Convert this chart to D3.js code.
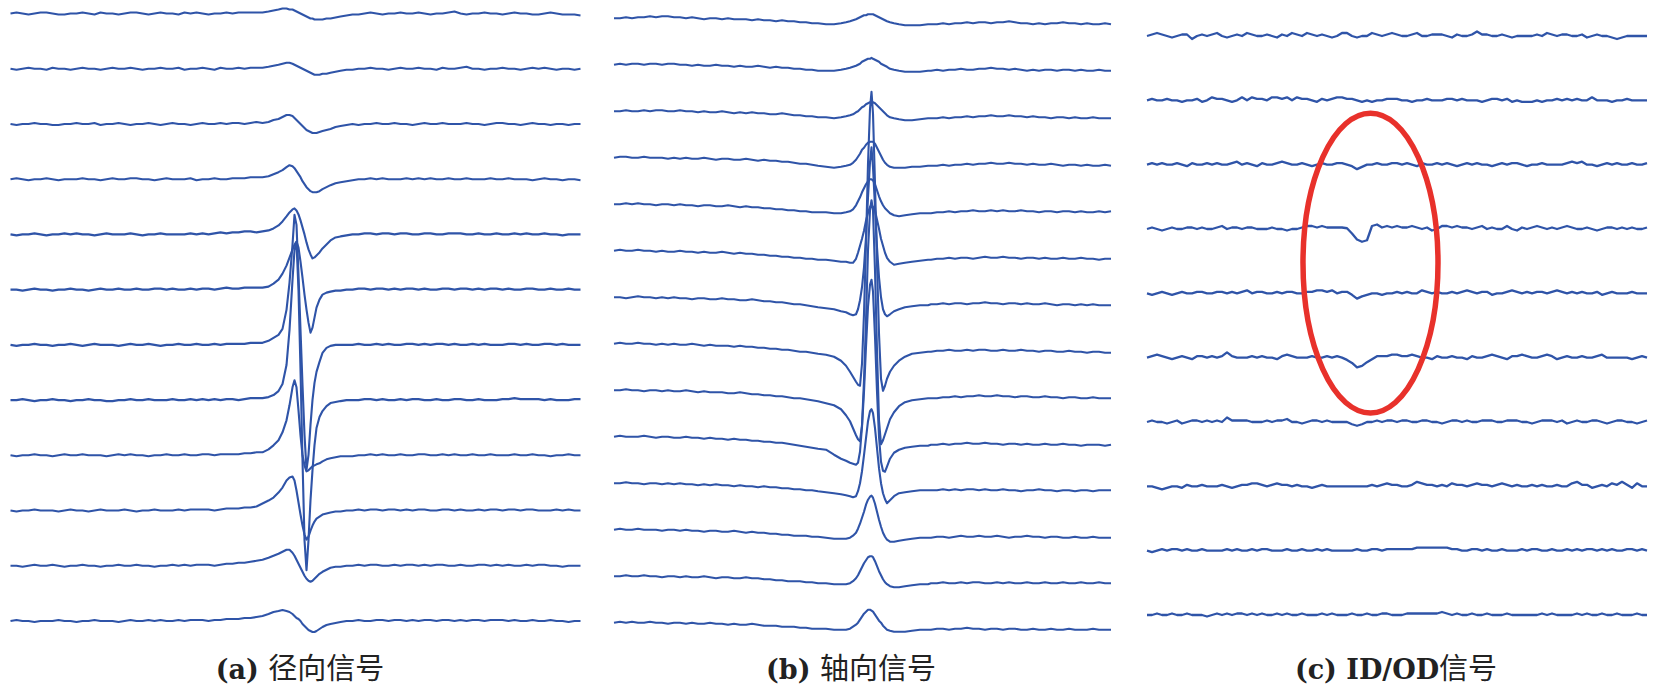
<!DOCTYPE html>
<html><head><meta charset="utf-8">
<script src="https://cdn.jsdelivr.net/npm/d3@7"></script>
<style>html,body{margin:0;padding:0;background:#fff;}svg{display:block;}</style>
</head><body>
<svg id="chart" width="1655" height="689"></svg>
<script>
// ---------------- (a) radial signal: 12 traces ----------------
const radialStep = 6;            // coarse sampling step (scan units)
const radialXMax = 570;
const radialPulsePos = [252,258,263,268,272,276,279,282,284,286,288,290,292,294,296,298,300,302,304,306,309,312,316,320,325,330,336];
const radialLeft = [
 [0,1,0,-1,0,1,1,0,-1,-1,0,0,1,0,-1,1,0,0,-1,0,1,1,0,-1,0,1,0,0,-1,1,0,1,0,-1,0,0,1,0,1,1,1,1],
 [0,-1,0,1,0,0,-1,1,0,0,-1,0,1,0,0,-1,0,1,0,0,1,0,-1,0,0,1,0,0,1,-1,0,0,1,0,-1,1,0,0,1,0,1,1],
 [0,-1,0,0,1,0,0,-1,-1,0,0,1,0,0,1,-1,0,0,1,0,-1,0,0,1,0,-1,0,1,0,0,-1,0,1,0,0,1,0,1,1,0,1,2],
 [0,1,0,-1,0,0,1,0,-1,0,0,0,1,0,0,-1,0,1,0,0,1,1,0,0,-1,0,1,0,0,0,1,-1,0,0,1,0,0,1,1,1,2,2],
 [0,-1,0,0,1,0,-1,0,0,1,0,1,0,0,-1,0,1,0,0,0,1,0,-1,0,0,1,0,0,0,0,1,0,1,0,1,2,1,2,2,3,3,2],
 [0,0,-1,0,1,0,0,-1,0,0,1,0,0,-1,0,1,0,0,1,0,0,1,0,0,1,1,0,1,0,0,1,0,1,1,0,1,2,1,1,2,2,2],
 [0,-1,0,0,1,0,0,-1,0,0,1,0,-1,0,1,0,0,0,-1,0,1,0,0,1,0,-1,0,0,1,0,0,1,0,0,1,0,1,1,1,1,2,2],
 [0,0,1,0,-1,0,0,1,0,0,-1,0,0,1,0,0,-1,-1,0,0,1,0,0,1,0,0,0,1,0,0,1,0,1,0,1,0,1,1,0,1,2,2],
 [0,-1,0,0,1,0,0,-1,0,1,0,0,1,0,0,0,-1,0,1,0,1,0,0,-1,0,0,1,0,0,1,0,0,1,1,0,1,1,1,1,2,2,3],
 [0,-1,0,0,1,0,0,0,-1,0,1,0,0,-1,0,1,0,0,0,1,0,-1,0,0,1,0,0,0,1,0,1,1,1,1,0,1,2,2,2,3,3,4],
 [0,0,-1,0,1,0,0,1,0,-1,0,0,1,0,0,-1,0,0,1,0,0,1,0,0,-1,0,0,1,0,1,0,1,1,1,0,1,2,2,3,3,4,5],
 [0,1,0,0,-1,0,0,0,1,0,0,-1,0,0,1,0,0,0,-1,0,1,0,0,1,0,1,0,0,1,0,1,1,1,0,1,1,2,2,2,3,3,4]
];
const radialPulse = [
 [1,2,3,4,5,5,4,4,3,2,1,0,-1,-2,-3,-4,-5,-5,-6,-6,-6,-6,-5,-5,-4,-3,-2],
 [1,2,3,4,5,6,6,5,4,3,2,1,0,-1,-2,-3,-4,-5,-6,-6,-6,-5,-5,-4,-3,-2,-1],
 [1,2,4,5,7,9,9,8,6,4,2,0,-2,-4,-6,-7,-8,-9,-9,-9,-8,-7,-6,-5,-3,-2,-1],
 [2,3,5,7,9,12,14,13,11,8,5,2,-2,-5,-8,-10,-12,-13,-13,-13,-12,-10,-8,-6,-4,-3,-2],
 [3,4,6,9,13,18,22,25,26,24,20,14,7,0,-8,-15,-20,-24,-23,-21,-18,-14,-10,-6,-3,-2,-1],
 [2,3,6,10,16,24,32,40,45,48,42,28,12,-5,-20,-33,-43,-38,-28,-18,-10,-5,-3,-2,-1,-1,0],
 [2,4,7,10,16,35,62,100,130,120,70,15,-40,-90,-125,-110,-80,-55,-38,-27,-17,-8,-3,-1,0,0,0],
 [2,3,5,9,16,35,70,120,150,158,110,30,-60,-140,-170,-140,-100,-70,-45,-28,-17,-11,-6,-3,-2,-1,0],
 [3,6,10,15,23,35,50,68,75,68,45,20,0,-10,-16,-15,-13,-11,-10,-9,-8,-6,-4,-3,-2,-1,-1],
 [7,10,13,18,23,30,33,34,30,20,8,-4,-15,-24,-29,-26,-20,-15,-11,-8,-6,-4,-3,-2,-1,-1,0],
 [6,8,10,12,14,16,16,13,10,6,2,-2,-6,-10,-13,-15,-16,-15,-13,-11,-8,-6,-4,-2,-1,-1,0],
 [5,7,9,10,11,10,9,7,5,3,2,0,-3,-5,-7,-9,-10,-11,-11,-10,-8,-6,-4,-3,-2,-1,0]
];
const radialRight = [
 [-1,-1,0,1,0,-1,0,0,1,0,0,1,0,-1,0,0,1,2,0,-1,0,0,1,0,0,-1,0,1,0,0,-1,-1,0,1,0,-1,-1,-1,-2],
 [-1,0,0,1,0,0,-1,0,1,0,0,1,0,0,-1,1,0,0,1,2,0,0,-1,0,0,1,0,0,-1,0,1,0,1,0,-1,0,0,-1,0],
 [0,-1,0,0,1,0,0,1,0,0,-1,0,1,0,0,1,0,0,0,1,0,0,-1,0,1,1,0,0,-1,0,1,0,0,-1,0,0,-1,0,0],
 [-1,0,0,1,0,1,0,0,0,1,0,1,0,1,0,0,1,0,0,1,0,0,0,1,0,0,1,0,0,0,-1,0,1,0,0,-1,0,0,-1],
 [0,0,1,1,0,1,1,0,1,1,0,0,1,1,0,0,1,1,1,0,0,1,0,0,1,0,0,1,0,1,0,0,1,0,0,-1,0,0,0],
 [0,1,1,0,1,1,0,1,0,1,1,0,1,0,0,1,1,0,1,1,0,1,0,1,1,0,1,0,0,1,1,0,0,1,0,0,1,0,0],
 [0,1,0,0,1,0,1,0,0,1,1,0,1,0,1,1,0,1,0,0,1,0,1,0,0,0,1,1,0,1,0,0,1,1,0,1,0,0,0],
 [0,0,1,1,0,1,0,0,1,0,1,1,0,0,1,0,0,1,1,0,0,1,0,0,0,1,1,2,1,1,1,1,0,1,0,0,0,1,1],
 [-1,0,0,1,0,1,0,0,1,0,0,1,1,0,0,1,0,1,0,0,1,0,0,1,0,0,0,1,0,0,1,0,0,-1,0,0,1,0,0],
 [0,1,0,1,1,0,1,1,0,1,0,1,1,0,0,1,1,0,1,0,0,1,0,1,1,0,1,1,0,1,1,0,0,0,1,0,1,0,0],
 [0,1,0,1,1,0,0,1,0,1,1,0,1,0,1,1,0,0,1,0,0,1,1,0,1,0,1,0,0,1,0,1,1,0,0,-1,0,0,0],
 [0,1,0,0,1,1,0,1,1,0,1,0,1,1,0,1,1,0,1,0,1,1,0,1,1,1,0,1,0,0,1,0,0,1,0,0,-1,0,0]
];

// ---------------- (b) axial signal: 14 traces ----------------
const axialStep = 6;
const axialXMax = 497;
const axialPulsePos = [212,220,227,232,236,239,242,244,246,248,250,252,254,256,257.5,259,261,263,265,267,269,271,273,276,280,285,291,298,306,314];
const axialLeft = [
 [0,0,1,0,1,1,2,1,2,2,1,1,0,1,0,-1,0,0,-1,0,-1,-1,-1,-2,-1,-2,-2,-3,-2,-3,-3,-4,-4,-5,-5],
 [0,1,0,1,1,0,1,1,0,1,1,0,0,-1,0,-1,-1,0,-1,-1,-2,-1,-2,-2,-1,-2,-3,-2,-3,-3,-4,-4,-5,-5,-6],
 [0,0,1,0,0,1,0,1,1,0,0,1,0,0,-1,0,-1,-1,0,-1,-2,-1,-2,-1,-2,-2,-3,-3,-2,-3,-4,-4,-5,-5,-6],
 [0,1,1,0,0,1,0,0,0,-1,0,-1,0,-1,-1,0,-1,-2,-1,-1,-2,-2,-1,-2,-3,-2,-3,-3,-4,-4,-5,-6,-6,-7,-8],
 [0,0,1,0,1,0,0,-1,0,0,-1,0,-1,-1,-2,-1,-1,-2,-2,-1,-2,-3,-2,-3,-3,-4,-4,-5,-5,-6,-6,-7,-7,-8,-8],
 [0,1,0,0,1,0,0,-1,0,-1,-1,0,-1,-1,-2,-1,-2,-2,-1,-2,-3,-2,-3,-3,-4,-4,-5,-5,-6,-6,-7,-7,-8,-8,-9],
 [0,0,-1,0,1,0,0,-1,0,-1,0,-1,-1,-2,-1,-1,-2,-2,-1,-2,-2,-3,-3,-2,-3,-4,-4,-5,-5,-6,-7,-7,-8,-9,-10],
 [0,1,0,0,1,0,0,-1,0,-1,0,-1,-1,0,-1,-2,-1,-2,-2,-2,-3,-2,-3,-3,-4,-4,-5,-5,-6,-6,-7,-8,-8,-9,-10],
 [0,0,1,0,0,-1,0,0,-1,0,-1,-1,0,-1,-2,-1,-2,-2,-2,-3,-3,-2,-3,-4,-4,-5,-5,-6,-6,-7,-8,-8,-9,-10,-11],
 [0,1,0,0,0,1,0,-1,0,0,-1,-1,0,-1,-1,-2,-1,-2,-2,-3,-2,-3,-3,-4,-4,-5,-5,-6,-6,-7,-8,-9,-10,-11,-12],
 [0,0,1,0,0,-1,0,0,-1,0,-1,0,-1,-1,-2,-1,-2,-1,-2,-2,-3,-2,-3,-3,-4,-3,-4,-4,-5,-5,-6,-6,-7,-7,-8],
 [0,1,0,0,1,0,0,0,-1,0,0,-1,0,-1,-1,-2,-1,-1,-2,-2,-1,-2,-3,-2,-3,-3,-4,-4,-5,-5,-6,-6,-6,-7,-7],
 [0,0,1,0,0,1,0,0,-1,0,0,-1,0,-1,-1,0,-1,-2,-1,-1,-2,-2,-1,-2,-2,-3,-3,-4,-4,-5,-5,-5,-6,-6,-7],
 [0,1,0,1,0,0,1,0,0,-1,0,0,-1,0,-1,-1,0,-1,-1,-2,-1,-2,-2,-1,-2,-3,-3,-3,-4,-4,-4,-5,-5,-6,-6]
];
const axialPulse = [
 [-6,-6,-5,-4,-3,-2,-1,0,1,2,3,3,4,4,4,4,3,2,1,0,-1,-2,-3,-4,-5,-6,-7,-7,-7,-6],
 [-6,-6,-5,-4,-3,-2,-1,0,1,3,4,5,6,6,7,6,5,4,3,1,0,-1,-2,-4,-5,-6,-7,-7,-7,-6],
 [-6,-7,-6,-5,-4,-3,-1,0,2,4,5,7,8,9,9,9,8,6,4,2,0,-2,-4,-6,-7,-8,-9,-9,-8,-7],
 [-9,-10,-9,-8,-7,-5,-2,1,4,8,10,13,15,16,16,16,14,10,6,2,-2,-5,-7,-9,-10,-10,-10,-9,-9,-8],
 [-8,-9,-9,-8,-7,-5,-1,3,7,12,16,20,23,25,25,24,20,14,8,3,-1,-4,-6,-9,-11,-12,-11,-10,-9,-9],
 [-9,-10,-11,-11,-12,-12,-8,-2,5,12,20,30,38,44,46,44,40,31,22,12,5,-2,-7,-11,-14,-13,-12,-11,-10,-9],
 [-11,-12,-14,-15,-17,-18,-17,-12,-3,10,30,60,100,135,150,130,90,50,20,0,-12,-17,-19,-17,-14,-12,-10,-9,-8,-8],
 [-11,-13,-17,-22,-28,-33,-38,-41,-42,-20,30,100,180,235,252,230,160,80,10,-35,-47,-42,-35,-28,-22,-17,-13,-10,-9,-8],
 [-13,-15,-19,-25,-31,-38,-45,-49,-51,-35,10,70,140,180,190,180,120,40,-30,-54,-50,-44,-38,-29,-22,-16,-12,-10,-9,-8],
 [-13,-18,-22,-24,-26,-27,-28,-26,-15,10,45,90,130,152,157,145,100,45,0,-25,-34,-35,-30,-22,-16,-13,-11,-10,-9,-9],
 [-9,-10,-11,-12,-13,-14,-13,-8,0,12,28,45,62,72,74,70,55,35,15,0,-10,-16,-20,-17,-13,-10,-9,-8,-7,-7],
 [-8,-9,-9,-9,-8,-6,-3,1,6,12,18,25,30,33,34,32,26,18,10,3,-3,-7,-10,-12,-12,-11,-10,-9,-8,-8],
 [-7,-8,-8,-8,-7,-5,-2,1,5,9,13,16,19,20,20,19,15,10,5,1,-3,-6,-8,-10,-11,-11,-10,-9,-8,-8],
 [-6,-7,-7,-7,-6,-4,-2,0,3,6,9,11,13,13,12,11,8,5,2,0,-3,-5,-7,-8,-9,-9,-9,-8,-7,-7]
];
const axialRight = [
 [-6,-6,-5,-6,-5,-5,-4,-5,-4,-4,-5,-4,-4,-3,-4,-5,-5,-6,-5,-6,-5,-5,-4,-5,-5,-6,-5,-6,-6,-5,-6],
 [-6,-5,-6,-5,-5,-4,-5,-5,-4,-4,-3,-4,-4,-5,-4,-5,-6,-5,-6,-5,-5,-6,-5,-5,-6,-5,-6,-6,-5,-6,-6],
 [-7,-7,-6,-7,-6,-6,-5,-6,-5,-5,-4,-5,-5,-4,-5,-5,-6,-5,-6,-6,-7,-6,-6,-7,-6,-7,-7,-6,-7,-7,-7],
 [-8,-8,-7,-8,-7,-7,-6,-7,-6,-6,-5,-6,-6,-5,-6,-6,-7,-6,-7,-7,-6,-7,-8,-7,-7,-8,-7,-8,-8,-7,-8],
 [-9,-8,-8,-7,-8,-7,-7,-6,-7,-7,-6,-7,-6,-7,-7,-6,-7,-7,-8,-7,-7,-8,-7,-7,-8,-7,-8,-8,-7,-8,-7],
 [-9,-8,-8,-7,-8,-7,-7,-8,-7,-6,-7,-7,-6,-7,-7,-8,-7,-7,-8,-7,-8,-8,-7,-8,-8,-7,-8,-8,-9,-8,-8],
 [-7,-7,-6,-7,-6,-6,-7,-6,-6,-5,-6,-6,-7,-6,-6,-7,-6,-7,-7,-6,-7,-8,-7,-7,-8,-7,-8,-7,-8,-8,-8],
 [-8,-7,-7,-6,-7,-7,-6,-7,-6,-6,-7,-7,-6,-7,-7,-6,-7,-7,-8,-7,-7,-8,-8,-7,-8,-8,-9,-8,-8,-9,-9],
 [-8,-8,-7,-7,-6,-7,-6,-6,-5,-6,-6,-5,-6,-6,-7,-6,-6,-7,-7,-6,-7,-7,-8,-7,-7,-8,-8,-7,-8,-8,-8],
 [-8,-8,-7,-8,-7,-7,-6,-7,-7,-6,-7,-7,-8,-7,-7,-8,-7,-8,-8,-7,-8,-8,-7,-8,-8,-9,-8,-8,-8,-9,-8],
 [-7,-7,-6,-7,-6,-7,-6,-6,-7,-6,-7,-7,-6,-7,-7,-8,-7,-7,-6,-7,-7,-8,-7,-7,-8,-7,-7,-8,-7,-7,-7],
 [-8,-7,-7,-8,-7,-6,-7,-7,-6,-7,-7,-6,-7,-8,-7,-7,-6,-7,-7,-8,-7,-7,-8,-8,-7,-8,-8,-7,-8,-8,-8],
 [-7,-7,-6,-7,-7,-6,-7,-6,-6,-7,-7,-6,-7,-6,-7,-7,-6,-7,-7,-6,-7,-7,-6,-7,-7,-6,-7,-7,-6,-7,-7],
 [-7,-6,-6,-7,-6,-6,-5,-6,-6,-7,-6,-6,-7,-6,-6,-7,-7,-6,-7,-7,-6,-7,-7,-6,-7,-7,-7,-6,-7,-7,-7]
];

// ---------------- (c) ID/OD signal: 10 traces ----------------
const idodStep = 5;
const idodTraces = [
 [0,1,2,1,0,-1,0,1,1,-2,0,1,0,1,2,0,-1,0,1,0,2,1,0,0,1,0,-1,1,0,2,1,0,2,1,0,1,0,-1,0,2,2,0,-1,0,0,2,1,0,1,2,1,0,0,1,2,0,0,1,1,1,0,-1,1,0,0,1,3,1,1,0,0,1,0,-1,0,0,0,0,1,0,2,1,0,1,1,0,0,1,-1,0,1,0,0,-1,-2,-1,0,0,0,0,0],
 [0,1,0,0,1,0,0,-1,0,0,1,-1,0,2,1,1,0,-1,0,2,0,2,1,1,0,2,2,1,2,0,2,1,1,0,-1,1,0,1,2,2,1,1,0,-1,0,-1,0,0,1,1,1,0,0,-1,0,0,1,0,0,0,1,1,0,1,0,0,0,-1,0,1,1,0,1,-1,0,-1,-1,-1,0,-1,0,0,1,0,1,0,1,0,0,2,0,0,0,-1,0,0,1,0,0,0,0],
 [0,1,0,1,0,0,1,0,-1,1,0,0,1,0,1,0,0,1,2,0,1,0,-1,1,0,0,1,2,1,0,0,1,0,-1,0,1,0,0,1,1,0,-1,-3,-1.5,0,0,1,0,0,1,1,0,1,0,-1,1,0,0,1,0,1,0,-1,0,1,0,1,0,0,-1,0,1,0,1,1,0,-1,0,0,1,0,0,0,0,1,2,1,2,0,0,-1,0,1,0,1,0,0,1,0,0,1],
 [0,1,0,-1,0,1,0,0,1,1,0,1,0,0,1,2,0,1,1,0,1,1,0,0,0,1,0,0,-1,0,0,1,2,2,1,2,1,1,1,1,0.5,-3,-7,-8.5,-7.5,2,3,1,2,1,2,1,1,2,1,0,1,-1,0,2,2,1,2,1,1,0,1,2,0,1,0,0,2,0,-1,1,0,1,2,1,0,1,0,1,2,1,0,0,1,0,-1,0,1,1,0,1,0,1,0,0,1],
 [0,-1,0,1,0,-1,0,1,0,0,1,1,0,0,1,1,0,1,0,1,2,0,1,1,0,0,1,0,1,1,0,0,1,1,2,2,1,2,0,1,1,-1,-3.5,-2,-1,0,0,-1,0,0,1,0,1,0,0,2,1,0,1,0,0,1,0,1,2,1,0,1,1,-1,0,0,1,2,1,0,1,0,1,1,0,1,2,1,0,1,0,1,0,0,1,-1,0,1,0,0,0,1,0,0,0],
 [0,1,2,1,0,-1,0,1,0,-1,1,1,0,1,0,1,3.5,1,0,0,0,1,0,1,0,0,-1,1,2,1,0,0,0,1,0,0,1,0,1,0,-1.5,-3.5,-6.5,-5.5,-3,-1,1,1,1,2,2,1,1,2,1,0,0,-1,1,0,0,1,0,0,-1,1,0,0,1,2,1,0,-1,1,1,2,1,0,0,1,2,1,-1,0,1,0,0,1,0,0,1,2,0,0,0,0,0,-1,0,1,0],
 [0,1,0,0,-1,0,1,-1,0,1,1,0,1,0,1,0,3,1,1,1,1,0,0,0,1,0,1,1,2,0,0,-1,0,1,1,0,1,0,0,0,0,-1.5,-2.5,-1.5,0,0,1,0,1,1,0,1,1,0,0,1,1,0,0,-1,0,1,1,0,1,0,0,1,1,1,0,0,1,1,1,0,0,-1,0,1,1,1,0,1,-1,0,1,0,0,1,1,0,-1,0,1,1,0,0,-1,0,1],
 [0,0,-1,-2,-1,0,0,-1,1,0,0,1,0,0,0,1,0,-1,0,1,1,2,2,1,0,1,2,1,1,0,1,0,0,-1,0,1,0,0,0,0,0,0,0,0,0,1,0,1,2,1,1,0,0,1,3,2,1,1,0,1,0,2,1,1,0,1,2,1,1,0,1,2,1,0,1,0,0,1,0,1,0,0,1,0,0,2,3,1,1,-1,0,1,0,2,1,3,1,-1,2,0,0],
 [0,-1,0,1,0,1,1,0,1,0,0,1,0,0,0,0,1,0,1,0,0,1,0,1,1,0,0,0,1,0,0,1,0,0,1,0,1,0,0,0,0,0,1,0,0,1,1,0,1,1,1,1,1,1,2,2,2,2,2,2,2,1,1,0,0,1,1,0,1,0,0,1,0,0,0,1,0,1,1,0,0,1,0,0,1,0,1,0,1,1,0,1,0,1,0,0,1,1,0,1,0],
 [0,0,1,0,0,1,0,0,1,0,0,0,-1,0,1,0,1,0,1,1,0,1,0,1,0,0,1,0,1,0,0,1,0,0,0,1,0,1,0,0,0,1,0,0,1,0,0,1,1,0,0,0,1,1,1,1,1,1,1,2,1,0,1,0,0,1,0,0,1,0,0,0,1,0,0,0,0,0,0,1,0,1,0,0,0,0,1,0,1,0,0,1,0,0,1,0,0,0,1,0,0]
];
// highlighted defect region in (c): scan position and trace-index span
const idodMark = {x: 223.5, halfWidth: 67.5, fromTrace: 1.2, toTrace: 5.86};

const panelTags = ["(a)", "(b)", "(c) ID/OD"];
const panelNames = ["径向信号", "轴向信号", "信号"];

// ---------------- drawing ----------------
const svg = d3.select("#chart");
const lineColor = "#2f54a8";

function joinSegments(left, step, pulsePos, pulse, right, xMax) {
  const pts = [];
  left.forEach((v, i) => pts.push([i * step, v]));
  pulsePos.forEach((x, i) => { if (i < pulse.length) pts.push([x, pulse[i]]); });
  right.forEach((v, i) => pts.push([xMax - (right.length - 1 - i) * step, v]));
  return pts;
}

function drawPanel(traces, xDomain, xRange, yRange, pxPerUnit, width) {
  const x = d3.scaleLinear().domain(xDomain).range(xRange);
  const base = d3.scalePoint().domain(d3.range(traces.length)).range(yRange);
  const amp = d3.scaleLinear().domain([0, 1]).range([0, -pxPerUnit]);
  const g = svg.append("g");
  traces.forEach((pts, i) => {
    const line = d3.line().x(d => x(d[0])).y(d => base(i) + amp(d[1]));
    g.append("path").attr("d", line(pts))
      .attr("fill", "none").attr("stroke", lineColor)
      .attr("stroke-width", width).attr("stroke-linejoin", "round");
  });
  return {x, base};
}

const radialTraces = radialLeft.map((l, i) => joinSegments(l, radialStep, radialPulsePos, radialPulse[i], radialRight[i], radialXMax));
drawPanel(radialTraces, [0, radialXMax], [10.5, 580.5], [13.5, 621], 1, 2.1);

const axialTraces = axialLeft.map((l, i) => joinSegments(l, axialStep, axialPulsePos, axialPulse[i], axialRight[i], axialXMax));
drawPanel(axialTraces, [0, axialXMax], [614, 1111], [18.3, 622.7], 1, 2.1);

const idodPts = idodTraces.map(t => t.map((v, i) => [i * idodStep, v]));
const pc = drawPanel(idodPts, [0, 500], [1147, 1647], [36, 615], 1.5, 2.3);

// red ellipse annotation
const traceY = d3.scaleLinear().domain([0, idodTraces.length - 1]).range([36, 615]);
const yTop = traceY(idodMark.fromTrace), yBot = traceY(idodMark.toTrace);
svg.append("ellipse")
  .attr("cx", pc.x(idodMark.x)).attr("cy", (yTop + yBot) / 2)
  .attr("rx", pc.x(idodMark.x + idodMark.halfWidth) - pc.x(idodMark.x))
  .attr("ry", (yBot - yTop) / 2)
  .attr("fill", "none").attr("stroke", "#e8312b").attr("stroke-width", 5.5);

// captions
const captionX = [300, 851, 1396];
panelTags.forEach((tag, i) => {
  const t = svg.append("text").attr("x", captionX[i]).attr("y", 679)
    .attr("text-anchor", "middle").attr("fill", "#222");
  t.append("tspan").text(tag + (i < 2 ? " " : ""))
    .attr("font-family", "'DejaVu Serif',serif")
    .attr("font-weight", "bold").attr("font-size", 27);
  t.append("tspan").text(panelNames[i])
    .attr("font-family", "'Noto Sans CJK SC',sans-serif")
    .attr("font-size", 29);
});
</script>
</body></html>
